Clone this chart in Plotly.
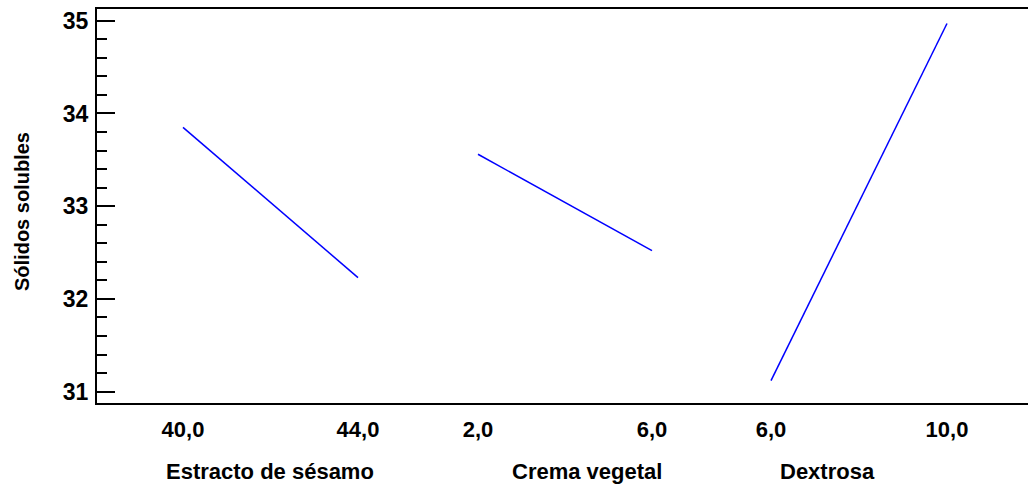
import plotly.graph_objects as go

# ---- data ----
factors = ["Estracto de sésamo", "Crema vegetal", "Dextrosa"]
x_estracto = [40.0, 44.0]
y_estracto = [33.85, 32.23]
x_crema = [2.0, 6.0]
y_crema = [33.56, 32.52]
x_dextrosa = [6.0, 10.0]
y_dextrosa = [31.12, 34.97]
tick_estracto = ["40,0", "44,0"]
tick_crema = ["2,0", "6,0"]
tick_dextrosa = ["6,0", "10,0"]
y_title = "Sólidos solubles"

# ---- layout geometry (pixels) ----
W, H = 1028, 487
ML, MR, MT, MB = 97, 0, 9, 84
PW = W - ML - MR
PH = H - MT - MB

def px_to_paper_x(px):
    return (px - ML) / PW

def px_to_paper_y(py):
    return (H - MB - py) / PH

# panel pixel domains and anchor pixels for low/high levels
panels = [
    dict(xs=x_estracto, ys=y_estracto, ticks=tick_estracto, dom=(97, 420), anchors=(183, 358), title_px=270),
    dict(xs=x_crema, ys=y_crema, ticks=tick_crema, dom=(420, 700), anchors=(478, 652), title_px=587),
    dict(xs=x_dextrosa, ys=y_dextrosa, ticks=tick_dextrosa, dom=(700, 1028), anchors=(771, 947), title_px=827),
]

FONT = "Liberation Sans, Arial, sans-serif"
fig = go.Figure()
layout = dict(
    width=W, height=H,
    margin=dict(l=ML, r=MR, t=MT, b=MB),
    paper_bgcolor="white", plot_bgcolor="white",
    showlegend=False,
    font=dict(family=FONT, size=20, color="black"),
    xaxis=dict(domain=[0, 1], range=[0, 1], showline=True, mirror=True, linecolor="black",
               linewidth=2, showticklabels=False, ticks="", showgrid=False, zeroline=False, fixedrange=True),
    yaxis=dict(range=[30.878, 35.126], showline=True, linecolor="black", linewidth=2, mirror=False,
               tickvals=[31, 32, 33, 34, 35], ticks="inside", ticklen=18, tickwidth=2, tickcolor="black",
               minor=dict(dtick=0.2, ticks="inside", ticklen=10, tickwidth=2, tickcolor="black", showgrid=False),
               showgrid=False, zeroline=False, anchor="x", ticklabelstandoff=2,
               tickfont=dict(family=FONT, size=23, color="black", weight="bold")),
    yaxis2=dict(range=[30.878, 35.126], overlaying="y", side="right", anchor="free", position=1,
                showline=False, showticklabels=False, tickvals=[31, 32, 33, 34, 35],
                ticks="inside", ticklen=16, tickwidth=2, tickcolor="black",
                minor=dict(dtick=0.2, ticks="inside", ticklen=7, tickwidth=2, tickcolor="black", showgrid=False),
                showgrid=False, zeroline=False),
)

annotations = []
for i, p in enumerate(panels, start=2):
    d0, d1 = p["dom"]
    a0, a1 = p["anchors"]
    v0, v1 = p["xs"]
    scale = (a1 - a0) / (v1 - v0)
    r0 = v0 - (a0 - d0) / scale
    r1 = v0 + (d1 - a0) / scale
    layout[f"xaxis{i}"] = dict(
        domain=[px_to_paper_x(d0), px_to_paper_x(d1)], range=[r0, r1], anchor="y",
        showline=False, showgrid=False, zeroline=False,
        tickvals=p["xs"], ticktext=p["ticks"], ticks="", ticklabelstandoff=11,
        tickfont=dict(family=FONT, size=22, color="black", weight="bold"),
    )
    fig.add_trace(go.Scatter(x=p["xs"], y=p["ys"], mode="lines", xaxis=f"x{i}", yaxis="y",
                             line=dict(color="#0000ff", width=1.5)))
    annotations.append(dict(text=f"<b>{factors[i-2]}</b>", xref="paper", yref="paper",
                            x=px_to_paper_x(p["title_px"]), y=px_to_paper_y(471),
                            xanchor="center", yanchor="middle", showarrow=False,
                            font=dict(family=FONT, size=22, color="black")))

annotations.append(dict(text=f"<b>{y_title}</b>", xref="paper", yref="paper",
                        x=px_to_paper_x(22), y=px_to_paper_y(212), textangle=-90,
                        xanchor="center", yanchor="middle", showarrow=False,
                        font=dict(family=FONT, size=20, color="black")))
# invisible trace to activate yaxis2
fig.add_trace(go.Scatter(x=[None], y=[None], yaxis="y2", xaxis="x", hoverinfo="skip"))
layout["annotations"] = annotations
fig.update_layout(**layout)
fig.write_html("out.html")
